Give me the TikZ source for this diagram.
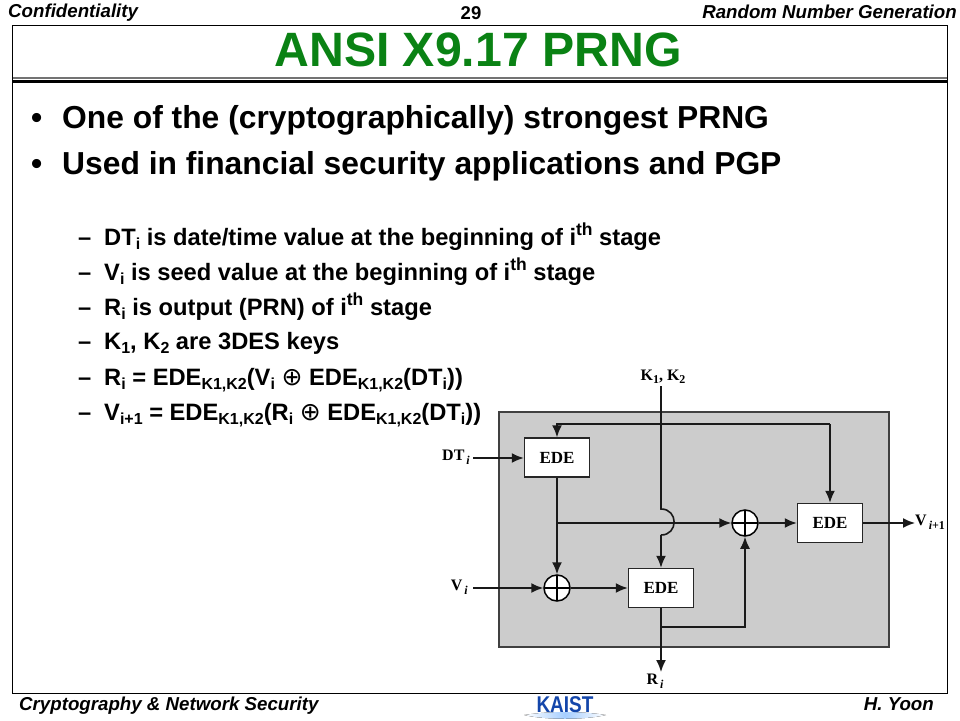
\documentclass[tikz,border=0pt]{standalone}
\usepackage{fontspec}
\setmainfont{Liberation Sans}
\newfontfamily\serifb{Liberation Serif}
\newfontfamily\symf{DejaVu Sans}
\usetikzlibrary{arrows.meta}
\definecolor{titlegreen}{RGB}{10,130,20}
\definecolor{kaistblue}{RGB}{20,70,170}
\newcommand\fs[1]{\fontsize{#1}{#1}\selectfont}
\newcommand\sbs[1]{\raisebox{-0.2em}{\fs{16}#1}}
\newcommand\sps[1]{\raisebox{0.38em}{\fs{17.5}#1}}
\newcommand\xo{{\symf\mdseries\fs{25}⊕}}
\newcommand\edesub{\sbs{K1,K2}}
\newcommand\lsub[1]{\raisebox{-0.25em}{\fs{12}\,\itshape #1}}
\tikzset{
  x=1pt,y=-1pt,
  title/.style={font=\fs{48.2}\bfseries,text=titlegreen,inner sep=0pt},
  head/.style={font=\fs{18.7}\bfseries\itshape,inner sep=0pt,anchor=base west},
  mainb/.style={font=\fs{31.8}\bfseries,inner sep=0pt,anchor=base west},
  subb/.style={font=\fs{23.7}\bfseries,inner sep=0pt,anchor=base west},
  lab/.style={font=\serifb\bfseries\fs{16},inner sep=0pt},
  edebox/.style={draw=black!85,line width=1.5pt,fill=white,minimum width=65pt,minimum height=39pt,inner sep=0pt,font=\serifb\bfseries\fs{17}},
  xorc/.style={draw=black,line width=1.5pt,fill=white,circle,minimum size=26pt,inner sep=0pt,
    path picture={\draw[line width=1.1pt] (path picture bounding box.north)--(path picture bounding box.south)
      (path picture bounding box.west)--(path picture bounding box.east);}},
  conn/.style={line width=1.6pt,black!90},
  arr/.style={conn,-{Latex[length=12pt,width=10pt]}},
}
\begin{document}
\begin{tikzpicture}
\useasboundingbox (0,0) rectangle (960,720);
\fill[white] (0,0) rectangle (960,720);
% frame
\draw[line width=1pt] (12.5,25.5) rectangle (947,693);
\fill[black!55] (12.5,77) rectangle (947,78.5);
\fill[black] (12.5,79.5) rectangle (947,82.5);
% heads
\node[head] (hl) at (8,17) {Confidentiality};
\node[head,anchor=base east] (hr) at (957,18) {Random Number Generation};
\node[font=\fs{18.5}\bfseries,inner sep=0pt] (pg) at (471,13) {29};
\node[title] (ttl) at (478,50) {ANSI X9.17 PRNG};
% main bullets
\node[mainb] (b1) at (31,128) {•};
\node[mainb] (t1) at (62,128) {One of the (cryptographically) strongest PRNG};
\node[mainb] (b2) at (31,174) {•};
\node[mainb] (t2) at (62,174) {Used in financial security applications and PGP};
% sub bullets
\foreach \yy/\nn in {245/a,280/b,315/c,349/d,385/e,420/f}
  \node[subb] (d\nn) at (78,\yy) {–};
\node[subb] (sa) at (104,245) {DT\sbs{i} is date/time value at the beginning of i\sps{th} stage};
\node[subb] (sb) at (104,280) {V\sbs{i} is seed value at the beginning of i\sps{th} stage};
\node[subb] (sc) at (104,315) {R\sbs{i} is output (PRN) of i\sps{th} stage};
\node[subb] (sd) at (104,349) {K\sbs{1}, K\sbs{2} are 3DES keys};
\node[subb] (se) at (104,385) {R\sbs{i} = EDE\edesub(V\sbs{i} \xo{} EDE\edesub(DT\sbs{i}))};
\node[subb] (sf) at (104,420) {V\sbs{i+1} = EDE\edesub(R\sbs{i} \xo{} EDE\edesub(DT\sbs{i}))};
% footer
\node[head] (fl) at (19,710) {Cryptography \& Network Security};
\node[head,anchor=base east] (fr) at (934,710) {H. Yoon};
\fill[left color=white,right color=white,middle color=cyan!45!blue!35] (524,715) .. controls (550,711) and (580,711) .. (606,715) .. controls (585,720) and (545,720) .. (524,715);
\node[font=\fs{19}\bfseries,text=kaistblue,inner sep=0pt] (logo) at (565,704.5) {\scalebox{1}[1.2]{KAIST}};
% diagram
\fill[black!20] (499,412) rectangle (889,647);
\draw[line width=1.5pt,black!75] (499,412) rectangle (889,647);
\node[edebox] (ede1) at (557,457.5) {EDE};
\node[edebox] (ede2) at (661,588) {EDE};
\node[edebox] (ede3) at (830,523) {EDE};
\node[xorc] (xor1) at (557,588) {};
\node[xorc] (xor2) at (745,523) {};
\node[lab,anchor=south] (k) at (663,384) {K\raisebox{-0.2em}{\fs{12}1}, K\raisebox{-0.2em}{\fs{12}2}};
\node[lab,anchor=east] (dt) at (470,457) {DT\lsub{i}};
\node[lab,anchor=east] (v) at (468,587) {V\lsub{i}};
\node[lab,anchor=west] (vo) at (915,522) {V\lsub{i\upshape +1}};
\node[lab,anchor=north] (r) at (655,674) {R\lsub{i}};
\coordinate (ks) at (661,386);
\coordinate (ba) at (661,509);
\coordinate (bb) at (661,535);
\coordinate (dts) at (473,458);
\coordinate (vs) at (473,588);
\coordinate (j1) at (557,523);
\coordinate (j2) at (661,627);
\coordinate (ro) at (661,672);
\coordinate (vt) at (915,523);
\coordinate (fb) at (557,424);
\coordinate (fc) at (830,424);
\draw[conn] (ks) -- (ba) .. controls (678.5,509) and (678.5,535) .. (bb);
\draw[arr] (bb) -- (ede2.north -| bb);
\draw[arr] (dts) -- (ede1.west |- dts);
\draw[arr] (vs) -- (xor1);
\draw[arr] (ede1.south) -- (xor1);
\draw[arr] (j1) -- (xor2);
\draw[arr] (xor1) -- (ede2);
\draw[arr] (xor2) -- (ede3);
\draw[arr] (ede3) -- (vt);
\draw[arr] (ede2.south) -- (ro);
\draw[arr] (j2) -| (xor2);
\draw[arr] (fc) -- (fb) -- (ede1.north);
\draw[arr] (fc) -- (ede3.north);
\end{tikzpicture}
\end{document}
